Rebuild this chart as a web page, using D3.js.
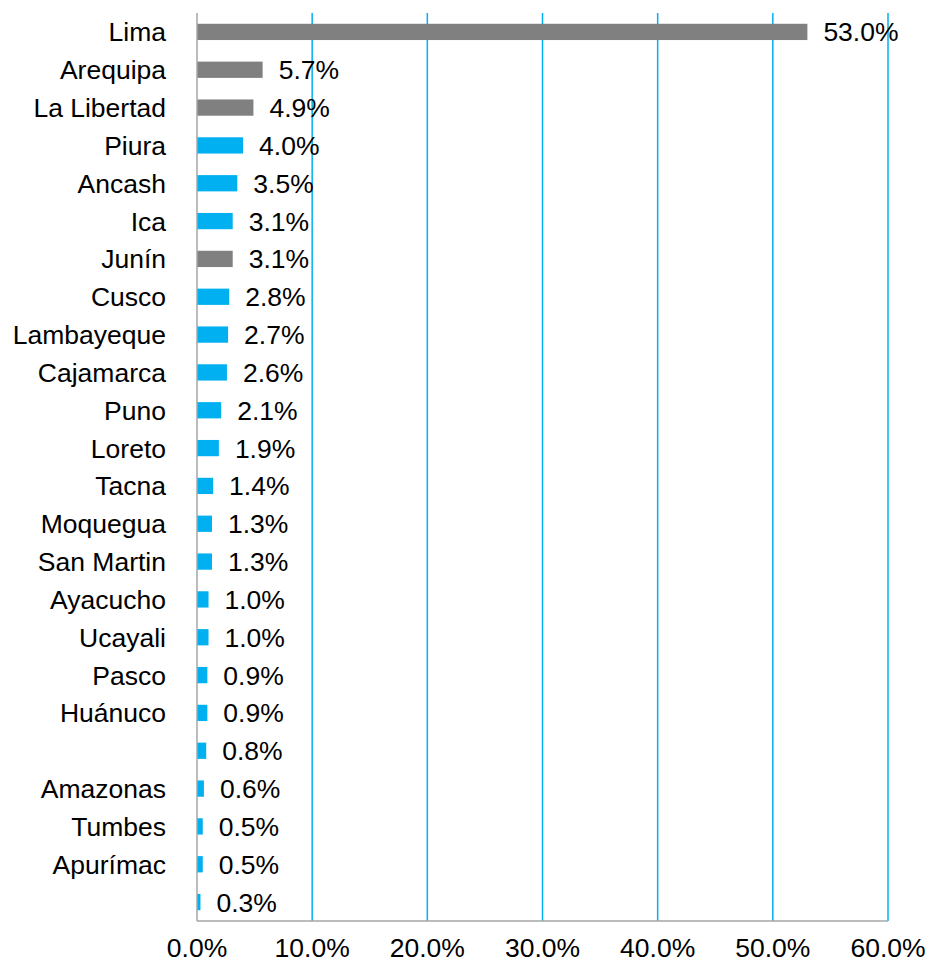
<!DOCTYPE html>
<html>
<head>
<meta charset="utf-8">
<script src="https://cdn.jsdelivr.net/npm/d3@7"></script>
<style>
  body { margin: 0; background: #fff; }
  text { font-family: "Liberation Sans", Arial, sans-serif; fill: #000; }
</style>
</head>
<body>
<div id="chart"></div>
<script>
// regions (empty names in the source are kept empty)
var regions = ["Lima", "Arequipa", "La Libertad", "Piura", "Ancash", "Ica", "Junín", "Cusco",
  "Lambayeque", "Cajamarca", "Puno", "Loreto", "Tacna", "Moquegua", "San Martin", "Ayacucho",
  "Ucayali", "Pasco", "Huánuco", "", "Amazonas", "Tumbes", "Apurímac", ""];
var shares = [53.0, 5.7, 4.9, 4.0, 3.5, 3.1, 3.1, 2.8, 2.7, 2.6, 2.1, 1.9, 1.4, 1.3, 1.3, 1.0,
  1.0, 0.9, 0.9, 0.8, 0.6, 0.5, 0.5, 0.3];
var highlighted = ["Lima", "Arequipa", "La Libertad", "Junín"];
var xTicks = [0, 10, 20, 30, 40, 50, 60];

var width = 928, height = 964;
var margin = { top: 13, right: 40, bottom: 43, left: 197 };
var fontSize = 26.5;

var rows = regions.map(function(r, i) {
  return { key: i, name: r, value: shares[i] };
});

var svg = d3.select("#chart").append("svg")
  .attr("width", width)
  .attr("height", height);

var x = d3.scaleLinear()
  .domain([0, 60])
  .range([margin.left, 888]);

var y = d3.scaleBand()
  .domain(rows.map(function(d) { return d.key; }))
  .range([margin.top, height - margin.bottom])
  .paddingInner(0.57)
  .paddingOuter(0.285);

// vertical gridlines
svg.append("g")
  .selectAll("line")
  .data(xTicks.slice(1))
  .join("line")
  .attr("x1", function(d) { return x(d); })
  .attr("x2", function(d) { return x(d); })
  .attr("y1", margin.top)
  .attr("y2", height - margin.bottom)
  .attr("stroke", "#00B0F0")
  .attr("stroke-width", 1.5);

// bars
svg.append("g")
  .selectAll("rect")
  .data(rows)
  .join("rect")
  .attr("x", x(0))
  .attr("y", function(d) { return y(d.key); })
  .attr("width", function(d) { return x(d.value) - x(0); })
  .attr("height", y.bandwidth())
  .attr("fill", function(d) {
    return highlighted.indexOf(d.name) >= 0 ? "#808080" : "#00B0F0";
  });

// value labels
svg.append("g")
  .selectAll("text")
  .data(rows)
  .join("text")
  .attr("x", function(d) { return x(d.value) + 16; })
  .attr("y", function(d) { return y(d.key) + y.bandwidth() / 2; })
  .attr("dy", "0.36em")
  .attr("font-size", fontSize)
  .text(function(d) { return d.value.toFixed(1) + "%"; });

// category labels
svg.append("g")
  .selectAll("text")
  .data(rows)
  .join("text")
  .attr("x", 166)
  .attr("y", function(d) { return y(d.key) + y.bandwidth() / 2; })
  .attr("dy", "0.36em")
  .attr("text-anchor", "end")
  .attr("font-size", fontSize)
  .text(function(d) { return d.name; });

// axes lines
svg.append("line")
  .attr("x1", x(0)).attr("x2", x(0))
  .attr("y1", margin.top).attr("y2", height - margin.bottom)
  .attr("stroke", "#A6A6A6").attr("stroke-width", 1.5);

svg.append("line")
  .attr("x1", x(0)).attr("x2", x(60))
  .attr("y1", height - margin.bottom).attr("y2", height - margin.bottom)
  .attr("stroke", "#A6A6A6").attr("stroke-width", 1.5);

// x tick labels
svg.append("g")
  .selectAll("text")
  .data(xTicks)
  .join("text")
  .attr("x", function(d) { return x(d); })
  .attr("y", 957)
  .attr("text-anchor", "middle")
  .attr("font-size", fontSize)
  .text(function(d) { return d.toFixed(1) + "%"; });
</script>
</body>
</html>
